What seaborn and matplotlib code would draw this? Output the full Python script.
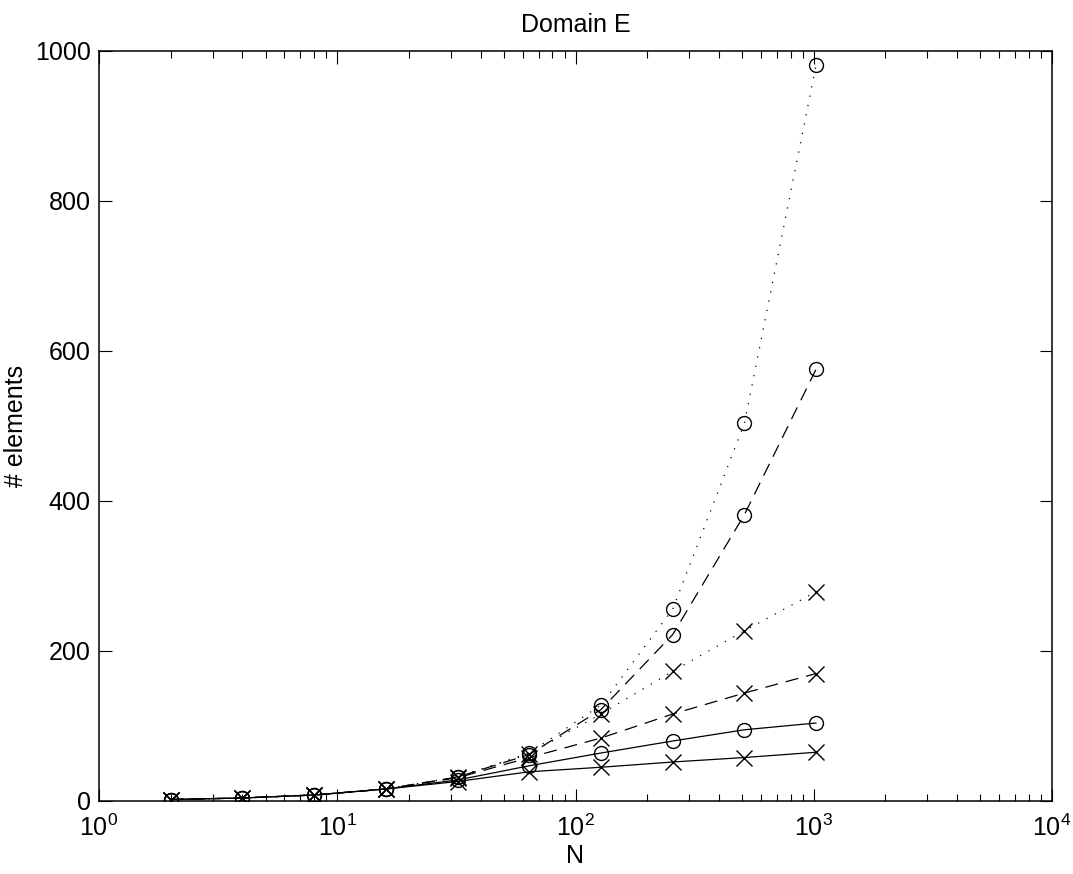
import matplotlib
matplotlib.use("Agg")
import matplotlib.pyplot as plt
import seaborn as sns
import pandas as pd

N = [2, 4, 8, 16, 32, 64, 128, 256, 512, 1024]
dotted_circle = [2, 4, 8, 16, 32, 64, 128, 256, 504, 982]
dotted_x = [2, 4, 8, 16, 32, 63, 116, 173, 227, 279]
dashed_circle = [2, 4, 8, 16, 32, 62, 122, 222, 382, 576]
dashed_x = [2, 4, 8, 16, 31, 58, 84, 116, 144, 170]
solid_circle = [2, 4, 8, 16, 28, 47, 64, 80, 95, 104]
solid_x = [2, 4, 8, 16, 26, 39, 45, 52, 58, 65]

sns.set_style("ticks")
plt.rcParams['font.family'] = ['Liberation Sans', 'DejaVu Sans']
plt.rcParams['text.color'] = 'black'
plt.rcParams['axes.labelcolor'] = 'black'
plt.rcParams['xtick.color'] = 'black'
plt.rcParams['ytick.color'] = 'black'

fig = plt.figure(figsize=(10.73, 8.74), dpi=100)
ax = fig.add_axes([99/1073, 73/874, 953/1073, 750/874])

dots = (0, (1, 6.6))
dashes = (0, (10.4, 6.4))
series = [
    (dotted_circle, dots, 'o'),
    (dotted_x, dots, 'x'),
    (dashed_circle, dashes, 'o'),
    (dashed_x, dashes, 'x'),
    (solid_circle, '-', 'o'),
    (solid_x, '-', 'x'),
]
for vals, ls, mk in series:
    df = pd.DataFrame({"N": N, "elements": vals})
    sns.lineplot(data=df, x="N", y="elements", ax=ax, color='black',
                 linewidth=0.9, linestyle=ls, marker=mk,
                 markersize=10 if mk == 'o' else 11,
                 markerfacecolor='none', markeredgecolor='black',
                 markeredgewidth=1.0)

ax.set_xscale('log')
ax.set_xlim(1, 1e4)
ax.set_ylim(0, 1000)
ax.set_yticks([0, 200, 400, 600, 800, 1000])
ax.set_xlabel('N', fontsize=18, labelpad=2)
ax.set_ylabel('# elements', fontsize=18)
ax.yaxis.set_label_coords(-0.075, 0.5)
ax.set_title('Domain E', fontsize=18, pad=14)
ax.tick_params(axis='both', which='both', direction='in', top=True, right=True,
               labelsize=18, width=0.8, colors='black')
ax.tick_params(axis='both', which='major', length=9)
ax.tick_params(axis='x', which='major', pad=10)
ax.tick_params(axis='y', which='major', pad=6)
ax.tick_params(axis='x', which='minor', length=5)
for s in ax.spines.values():
    s.set_linewidth(1.1)
    s.set_color('black')

fig.savefig('out.png', dpi=100)
